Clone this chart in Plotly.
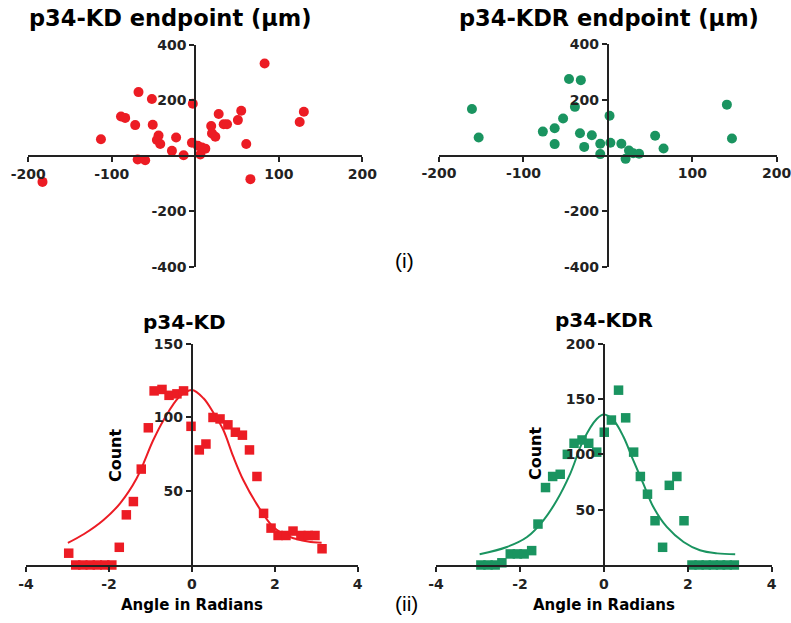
import plotly.graph_objects as go

# ---------------- data ----------------
kd_end_x = [-183, -113, -89, -84, -72, -68, -69, -60, -52, -51, -44, -46, -42, -28, -23, -14, -3, -4, 3, 6,
            8, 12, 19, 20, 24, 28, 34, 38, 51, 55, 61, 66, 83, 125, 130]
kd_end_y = [-94, 60, 142, 137, 111, 230, -13, -16, 205, 112, 73, 57, 43, 18, 66, 2, 188, 47, 36, 5,
            30, 26, 108, 81, 69, 151, 114, 114, 129, 163, 43, -84, 333, 122, 159]

kdr_end_x = [-161, -153, -77, -63, -63, -53, -46, -39, -32, -33, -28, -19, -9, -9, 2, 3, 16, 25, 21, 30,
             37, 56, 66, 141, 147]
kdr_end_y = [167, 65, 86, 98, 41, 133, 275, 175, 271, 80, 31, 73, 42, 5, 143, 46, 42, 18, -12, 8,
             6, 71, 25, 183, 61]

kd_ang_x = [-2.97, -2.80, -2.63, -2.45, -2.28, -2.10, -1.93, -1.75, -1.58, -1.41, -1.22, -1.05, -0.91, -0.72,
            -0.55, -0.36, -0.20, -0.02, 0.18, 0.34, 0.51, 0.68, 0.87, 1.05, 1.22, 1.39, 1.57, 1.73, 1.91,
            2.08, 2.27, 2.44, 2.63, 2.81, 2.97, 3.14]
kd_ang_y = [8, 0, 0, 0, 0, 0, 0, 12, 34, 43, 65, 93, 118, 119, 115, 116, 118, 94, 78, 82, 100, 99, 95, 90,
            88, 78, 60, 35, 25, 20, 20, 23, 20, 20, 20, 11]

kd_fit_x = [-2.99, -2.6, -2.13, -1.73, -1.33, -0.93, -0.68, -0.3, 0.0, 0.28, 0.52, 0.76, 1.0, 1.24, 1.57,
            1.97, 2.37, 2.8, 3.13]
kd_fit_y = [15, 21, 30.5, 41.8, 58.8, 84.7, 98.3, 114, 118.6, 113, 103.2, 91.5, 73.4, 57.6, 41.1,
            25.6, 19, 16, 15.1]

kdr_ang_x = [-2.93, -2.76, -2.59, -2.43, -2.23, -2.06, -1.90, -1.72, -1.57, -1.39, -1.22, -1.04, -0.87,
             -0.71, -0.52, -0.36, -0.17, 0.01, 0.18, 0.35, 0.52, 0.71, 0.87, 1.04, 1.22, 1.40, 1.56, 1.74,
             1.91, 2.10, 2.27, 2.44, 2.61, 2.78, 2.94, 3.11]
kdr_ang_y = [0, 0, 0, 2, 10, 10, 10, 13, 37, 70, 80, 82, 100, 110, 113, 110, 102, 120, 131, 158, 133, 102,
             80, 64, 40, 16, 72, 80, 40, 0, 0, 0, 0, 0, 0, 0]

kdr_fit_x = [-2.96, -2.31, -1.83, -1.44, -1.12, -0.80, -0.49, -0.17, 0.0, 0.23, 0.47, 0.70, 0.94, 1.18,
             1.50, 1.90, 2.29, 2.7, 3.13]
kdr_fit_y = [9.7, 16.3, 25.3, 40.4, 58.5, 82.6, 112.7, 132, 136, 130.8, 115.7, 94.7, 73.6, 52.4,
             34.4, 20.8, 13.3, 10.5, 9.7]

end_ticks_x = [-200, -100, 100, 200]
end_ticks_x_text = ["-200", "-100", "100", "200"]
end_ticks_y = [-400, -200, 200, 400]
end_ticks_y_text = ["-400", "-200", "200", "400"]
ang_ticks_x = [-4, -2, 0, 2, 4]
ang_ticks_x_text = ["-4", "-2", "0", "2", "4"]
kd_count_ticks = [50, 100, 150]
kdr_count_ticks = [50, 100, 150, 200]

RED = "#EC1C24"
GREEN = "#1A9460"
AX = "#222222"

fig = go.Figure()

fig.add_trace(go.Scatter(x=kd_end_x, y=kd_end_y, mode="markers", xaxis="x", yaxis="y",
                         marker=dict(color=RED, size=10, symbol="circle"), cliponaxis=False))
fig.add_trace(go.Scatter(x=kdr_end_x, y=kdr_end_y, mode="markers", xaxis="x2", yaxis="y2",
                         marker=dict(color=GREEN, size=10, symbol="circle"), cliponaxis=False))
fig.add_trace(go.Scatter(x=kd_fit_x, y=kd_fit_y, mode="lines", xaxis="x3", yaxis="y3",
                         line=dict(color=RED, width=2, shape="spline"), cliponaxis=False))
fig.add_trace(go.Scatter(x=kd_ang_x, y=kd_ang_y, mode="markers", xaxis="x3", yaxis="y3",
                         marker=dict(color=RED, size=9.5, symbol="square"), cliponaxis=False))
fig.add_trace(go.Scatter(x=kdr_fit_x, y=kdr_fit_y, mode="lines", xaxis="x4", yaxis="y4",
                         line=dict(color=GREEN, width=2, shape="spline"), cliponaxis=False))
fig.add_trace(go.Scatter(x=kdr_ang_x, y=kdr_ang_y, mode="markers", xaxis="x4", yaxis="y4",
                         marker=dict(color=GREEN, size=9.5, symbol="square"), cliponaxis=False))

W, H = 791, 623


def px_x(p):
    return p / W


def px_y(p):
    return 1 - p / H


tickfont = dict(family="DejaVu Sans", size=14, color=AX, weight="bold")
common = dict(showgrid=False, zeroline=False, showline=True, linecolor=AX, linewidth=2,
              ticks="outside", ticklen=5, tickwidth=2, tickcolor=AX, tickfont=tickfont,
              fixedrange=True, automargin=False, tickmode="array", ticklabeloverflow="allow")

tl_x = [px_x(28.3), px_x(362.3)]
tl_y = [px_y(266.7), px_y(45)]
tr_x = [px_x(439), px_x(776.7)]
tr_y = [px_y(266.7), px_y(44.3)]
bl_x = [px_x(26), px_x(357.7)]
bl_y = [px_y(565), px_y(343.7)]
br_x = [px_x(436), px_x(771.7)]
br_y = [px_y(565), px_y(343.7)]

mid = lambda d: (d[0] + d[1]) / 2

fig.update_layout(
    width=W, height=H, margin=dict(l=0, r=0, t=0, b=0, pad=0, autoexpand=False),
    paper_bgcolor="white", plot_bgcolor="white", showlegend=False,
    xaxis=dict(domain=tl_x, range=[-200, 200], anchor="free", position=mid(tl_y),
               tickvals=end_ticks_x, ticktext=end_ticks_x_text, **common),
    yaxis=dict(domain=tl_y, range=[-400, 400], anchor="free", position=mid(tl_x),
               tickvals=end_ticks_y, ticktext=end_ticks_y_text, **common),
    xaxis2=dict(domain=tr_x, range=[-200, 200], anchor="free", position=mid(tr_y),
                tickvals=end_ticks_x, ticktext=end_ticks_x_text, **common),
    yaxis2=dict(domain=tr_y, range=[-400, 400], anchor="free", position=mid(tr_x),
                tickvals=end_ticks_y, ticktext=end_ticks_y_text, **common),
    xaxis3=dict(domain=bl_x, range=[-4, 4], anchor="y3",
                tickvals=ang_ticks_x, ticktext=ang_ticks_x_text, **common),
    yaxis3=dict(domain=bl_y, range=[0, 150], anchor="free", position=mid(bl_x),
                tickvals=kd_count_ticks, **common),
    xaxis4=dict(domain=br_x, range=[-4, 4], anchor="y4",
                tickvals=ang_ticks_x, ticktext=ang_ticks_x_text, **common),
    yaxis4=dict(domain=br_y, range=[0, 200], anchor="free", position=mid(br_x),
                tickvals=kdr_count_ticks, **common),
)

ann = []


def add_text(text, xp, yp, size, angle=0, family="DejaVu Sans", weight="bold"):
    ann.append(dict(text=text, x=px_x(xp), y=px_y(yp), xref="paper", yref="paper",
                    showarrow=False, xanchor="center", yanchor="middle", textangle=angle,
                    font=dict(family=family, size=size, color="black", weight=weight)))


add_text("p34-KD endpoint (μm)", 170, 18, 22.5)
add_text("p34-KDR endpoint (μm)", 609, 18, 22.5)
add_text("p34-KD", 184, 322, 20)
add_text("p34-KDR", 604, 320, 20)
add_text("Count", 115, 455, 16, angle=-90)
add_text("Count", 535, 453, 16, angle=-90)
add_text("Angle in Radians", 192, 605, 15)
add_text("Angle in Radians", 604, 605, 15)
add_text("(i)", 404, 260, 21, family="Liberation Sans", weight="normal")
add_text("(ii)", 406, 603, 21, family="Liberation Sans", weight="normal")

fig.update_layout(annotations=ann)

fig.write_html(
    "out.html",
    config={"displayModeBar": False, "staticPlot": True},
    post_script="document.body.style.margin='0';document.body.style.padding='0';"
                "document.body.style.overflow='hidden';",
)
